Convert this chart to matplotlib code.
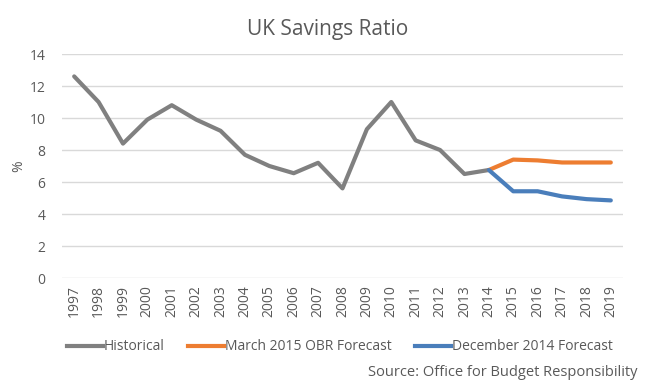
import matplotlib
matplotlib.use('Agg')
import matplotlib.pyplot as plt
from matplotlib.lines import Line2D

plt.rcParams['font.family'] = ['Open Sans', 'DejaVu Sans']

years = [str(y) for y in range(1997, 2020)]
historical = [12.6, 11.0, 8.4, 9.9, 10.8, 9.9, 9.2, 7.7, 7.0, 6.55, 7.2,
              5.6, 9.3, 11.0, 8.6, 8.0, 6.5, 6.75]
march_2015 = [6.75, 7.4, 7.35, 7.22, 7.22, 7.22]
december_2014 = [6.75, 5.42, 5.42, 5.1, 4.93, 4.85]

grey = "#808080"
orange = "#ED7D31"
blue = "#4A7EBB"
text_col = "#595959"

fig = plt.figure(figsize=(6.56, 3.92), dpi=100)
ax = fig.add_axes([62 / 656, 1 - 278 / 392, (623 - 62) / 656, (278 - 54) / 392])

x_hist = list(range(len(historical)))
x_fc = list(range(len(historical) - 1, len(years)))

ax.plot(x_hist, historical, color=grey, lw=3, solid_joinstyle='round', solid_capstyle='round')
ax.plot(x_fc, march_2015, color=orange, lw=3, solid_joinstyle='round', solid_capstyle='round')
ax.plot(x_fc, december_2014, color=blue, lw=3, solid_joinstyle='round', solid_capstyle='round')

ax.set_xlim(-0.5, len(years) - 0.5)
ax.set_ylim(0, 14)
ax.set_yticks(range(0, 15, 2))
ax.set_xticks(range(len(years)))
ax.set_xticklabels(years, rotation=90)
ax.grid(axis='y', color='#d9d9d9', lw=1)
ax.set_axisbelow(True)
for s in ax.spines.values():
    s.set_visible(False)
ax.tick_params(length=0, colors=text_col, labelsize=10)
ax.tick_params(axis='y', pad=12)
ax.tick_params(axis='x', pad=5)
ax.set_ylabel('%', color=text_col, fontsize=10, labelpad=2)

fig.text(0.5, 1 - 30 / 392, 'UK Savings Ratio', ha='center', va='center',
         fontsize=15, color=text_col)

handles = [Line2D([], [], color=grey, lw=3),
           Line2D([], [], color=orange, lw=3),
           Line2D([], [], color=blue, lw=3)]
fig.legend(handles, ['Historical', 'March 2015 OBR Forecast', 'December 2014 Forecast'],
           loc='center', bbox_to_anchor=(340 / 656, 1 - 347 / 392), ncol=3, frameon=False,
           fontsize=10, labelcolor=text_col, handlelength=2.6, handletextpad=0.05,
           columnspacing=1.7, borderpad=0, borderaxespad=0)

fig.text(637 / 656, 1 - 372 / 392, 'Source: Office for Budget Responsibility',
         ha='right', va='center', fontsize=10.5, color=text_col)

fig.savefig('out.png', dpi=100)
